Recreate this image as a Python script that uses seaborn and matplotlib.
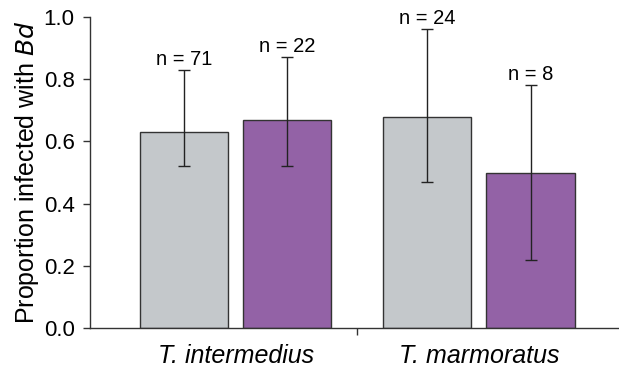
import numpy as np
import pandas as pd
import matplotlib
matplotlib.use("Agg")
import matplotlib.pyplot as plt
import seaborn as sns

# data
species = ["T. intermedius", "T. intermedius", "T. marmoratus", "T. marmoratus"]
group = ["A", "B", "A", "B"]
proportion = [0.63, 0.67, 0.68, 0.50]
ci_low = [0.52, 0.52, 0.47, 0.22]
ci_high = [0.83, 0.87, 0.96, 0.78]
n_labels = ["n = 71", "n = 22", "n = 24", "n = 8"]

df = pd.DataFrame({"species": species, "group": group, "prop": proportion,
                   "lo": ci_low, "hi": ci_high, "n": n_labels})

sns.set_style("ticks")
plt.rcParams["font.family"] = ["Liberation Sans", "DejaVu Sans"]
plt.rcParams["text.color"] = "black"
plt.rcParams["axes.labelcolor"] = "black"
plt.rcParams["xtick.color"] = "#333333"
plt.rcParams["ytick.color"] = "#333333"
plt.rcParams["xtick.labelcolor"] = "black"
plt.rcParams["ytick.labelcolor"] = "black"

fig = plt.figure(figsize=(6.19, 3.69), dpi=100)
ax = fig.add_axes([0.1454, 0.111, 0.8546, 0.843])

sns.barplot(data=df, x="species", y="prop", hue="group",
            palette=["#c4c8cb", "#9362a6"], saturation=1, width=0.848, gap=0.146,
            errorbar=None, edgecolor="#333333", linewidth=1.0,
            legend=False, ax=ax)

# error bars and n labels on each bar
bars = [p for p in ax.patches if p.get_height() > 0]
bars = sorted(bars, key=lambda p: p.get_x())
for p, (_, row) in zip(bars, df.iterrows()):
    xc = p.get_x() + p.get_width() / 2
    ax.errorbar(xc, row["prop"], yerr=[[row["prop"] - row["lo"]], [row["hi"] - row["prop"]]],
                fmt="none", ecolor="#222222", elinewidth=1.0, capsize=4, capthick=1.0)
    ax.text(xc, row["hi"] + 0.004, row["n"], ha="center", va="bottom", fontsize=14.5)

ax.set_ylim(0, 1.0)
ax.set_xlim(-0.6, 1.576)
ax.set_yticks([0, 0.2, 0.4, 0.6, 0.8, 1.0])
ax.set_yticklabels(["0.0", "0.2", "0.4", "0.6", "0.8", "1.0"], fontsize=16)
ax.set_xticks([0.5], minor=False)
ax.set_xticklabels([""])
ax.tick_params(axis="y", length=5, width=1, pad=6)
ax.tick_params(axis="x", length=5, width=1)
for lab, xpos in zip(["T. intermedius", "T. marmoratus"], [0, 1]):
    ax.text(xpos, -0.05, lab, ha="center", va="top", fontsize=18, style="italic",
            transform=ax.get_xaxis_transform())

ax.set_xlabel("")
ax.set_ylabel("Proportion infected with $\\mathit{Bd}$", fontsize=18, labelpad=2)
sns.despine(ax=ax)
for s in ["left", "bottom"]:
    ax.spines[s].set_color("#333333")
    ax.spines[s].set_linewidth(1.0)

fig.savefig("out.png", dpi=100)
